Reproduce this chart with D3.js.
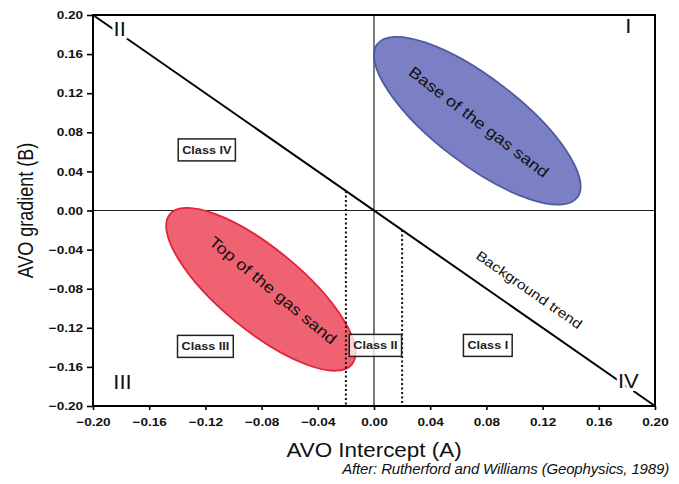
<!DOCTYPE html>
<html>
<head>
<meta charset="utf-8">
<script src="https://cdn.jsdelivr.net/npm/d3@7/dist/d3.min.js"></script>
<style>
	body { margin: 0; background: #fff; }
	svg { display: block; font-family: "Liberation Sans", Arial, sans-serif; }
</style>
</head>
<body>
<div id="chart"></div>
<script>
// AXIS TICKS
var xTicks = [-0.20, -0.16, -0.12, -0.08, -0.04, 0.00, 0.04, 0.08, 0.12, 0.16, 0.20];
var yTicks = [-0.20, -0.16, -0.12, -0.08, -0.04, 0.00, 0.04, 0.08, 0.12, 0.16, 0.20];

// BACKGROUND TREND LINE (A, B)
var trendLine = [[-0.20, 0.20], [0.20, -0.20]];
var cutoffs = [-0.02, 0.02];   // dotted class II bounds on intercept

// QUADRANT LABELS
var quadrantNames = ["I", "II", "III", "IV"];
var quadrantA = [0.181, -0.181, -0.179, 0.181];
var quadrantB = [0.189, 0.186, -0.175, -0.174];

// CLASS BOXES
var classNames = ["Class IV", "Class III", "Class II", "Class I"];
var classA = [-0.119, -0.120, 0.001, 0.081];
var classB = [0.062, -0.139, -0.138, -0.138];

// GAS SAND ELLIPSES (centre in A, B)
var sandNames = ["Base of the gas sand", "Top of the gas sand"];
var sandA = [0.0735, -0.0805];
var sandB = [0.0918, -0.0806];

var W = 679, H = 484;
var margin = {left: 93, right: 24, top: 15, bottom: 78};
var SX = 1.18;   // the original scan is a bit wider than tall

var svg = d3.select("#chart").append("svg")
	.attr("width", W)
	.attr("height", H);

var x = d3.scaleLinear().domain([-0.2, 0.2]).range([margin.left, W - margin.right]);
var y = d3.scaleLinear().domain([-0.2, 0.2]).range([H - margin.bottom, margin.top]);

var fmt = d3.format(".2f");

function place(px, py, rot, sx){
	return "translate(" + px + "," + py + ") rotate(" + (rot || 0) + ") scale(" + (sx || 1) + ",1)";
}

//ZERO LINES
svg.append("line")
	.attr("x1", x(-0.2)).attr("x2", x(0.2))
	.attr("y1", y(0)).attr("y2", y(0))
	.attr("stroke", "#222").attr("stroke-width", 1.2);
svg.append("line")
	.attr("x1", x(0)).attr("x2", x(0))
	.attr("y1", y(-0.2)).attr("y2", y(0.2))
	.attr("stroke", "#222").attr("stroke-width", 1.2);

//ELLIPSES
var sandStyle = [
	{fill: "#7b80c4", stroke: "#4b5b9e", rx: 126, ry: 43, rot: 37.5, tx: 2, ty: 0},
	{fill: "#ef6272", stroke: "#e3223d", rx: 118, ry: 41, rot: 39.5, tx: 10, ty: -7}
];
sandNames.forEach(function(name, i){
	var st = sandStyle[i];
	var g = svg.append("g")
		.attr("transform", "translate(" + x(sandA[i]) + "," + y(sandB[i]) + ") rotate(" + st.rot + ")");
	g.append("ellipse")
		.attr("rx", st.rx).attr("ry", st.ry)
		.attr("fill", st.fill)
		.attr("stroke", st.stroke)
		.attr("stroke-width", 1.8);
	g.append("text")
		.attr("transform", "translate(" + st.tx + "," + st.ty + ") scale(" + SX + ",1)")
		.attr("text-anchor", "middle")
		.attr("dy", "0.35em")
		.attr("font-size", 15.5)
		.attr("fill", "#111")
		.text(name);
});

//DOTTED CUTOFFS, FROM THE TREND LINE DOWN TO THE AXIS
cutoffs.forEach(function(a){
	svg.append("line")
		.attr("x1", x(a)).attr("x2", x(a))
		.attr("y1", y(-a)).attr("y2", y(-0.2))
		.attr("stroke", "#111")
		.attr("stroke-width", 2)
		.attr("stroke-dasharray", "2,2.5");
});

//TREND LINE
svg.append("line")
	.attr("x1", x(trendLine[0][0])).attr("y1", y(trendLine[0][1]))
	.attr("x2", x(trendLine[1][0])).attr("y2", y(trendLine[1][1]))
	.attr("stroke", "#000").attr("stroke-width", 2);

var angle = Math.atan2(y(trendLine[1][1]) - y(trendLine[0][1]), x(trendLine[1][0]) - x(trendLine[0][0])) * 180 / Math.PI;
svg.append("text")
	.attr("transform", place(x(0.1085), y(-0.085), angle, SX))
	.attr("text-anchor", "middle")
	.attr("font-size", 13.5)
	.attr("fill", "#111")
	.text("Background trend");

//QUADRANT NUMERALS (white knock-out behind so the trend line breaks)
quadrantNames.forEach(function(q, i){
	svg.append("text")
		.attr("transform", place(x(quadrantA[i]), y(quadrantB[i]), 0, 1.05))
		.attr("text-anchor", "middle")
		.attr("dy", "0.35em")
		.attr("font-size", 21)
		.attr("fill", "#111")
		.attr("stroke", "#fff")
		.attr("stroke-width", 6)
		.attr("paint-order", "stroke")
		.text(q);
});

//CLASS BOXES
classNames.forEach(function(c, i){
	var g = svg.append("g")
		.attr("transform", "translate(" + x(classA[i]) + "," + y(classB[i]) + ")");
	var t = g.append("text")
		.attr("transform", "scale(1.1,1)")
		.attr("text-anchor", "middle")
		.attr("dy", "0.35em")
		.attr("font-size", 11.5)
		.attr("font-weight", "bold")
		.attr("fill", "#222")
		.text(c);
	var bb = t.node().getBBox();
	var w = bb.width * 1.1;
	g.insert("rect", "text")
		.attr("x", -w / 2 - 4).attr("y", -11)
		.attr("width", w + 8).attr("height", 22)
		.attr("fill", i == 2 ? "rgba(255,255,255,0.75)" : "#fff")
		.attr("stroke", "#222")
		.attr("stroke-width", 1.5);
});

//FRAME
svg.append("rect")
	.attr("x", x(-0.2)).attr("y", y(0.2))
	.attr("width", x(0.2) - x(-0.2))
	.attr("height", y(-0.2) - y(0.2))
	.attr("fill", "none")
	.attr("stroke", "#000")
	.attr("stroke-width", 2);

//AXES
var xAxis = svg.append("g")
	.attr("transform", "translate(0," + y(-0.2) + ")")
	.call(d3.axisBottom(x).tickValues(xTicks).tickFormat(fmt).tickSize(4).tickPadding(8));
var yAxis = svg.append("g")
	.attr("transform", "translate(" + x(-0.2) + ",0)")
	.call(d3.axisLeft(y).tickValues(yTicks).tickFormat(fmt).tickSize(6).tickPadding(4));
[xAxis, yAxis].forEach(function(ax){
	ax.select(".domain").remove();
	ax.selectAll("line").attr("stroke", "#000").attr("stroke-width", 1.6);
	ax.selectAll("text")
		.attr("font-size", 11.5)
		.attr("font-weight", "bold")
		.attr("font-family", "'Liberation Sans', Arial, sans-serif")
		.attr("fill", "#111")
		.attr("transform", function(){
			var ax0 = +d3.select(this).attr("x") || 0;
			return "translate(" + (ax0 * (1 - SX)) + ",0) scale(" + SX + ",1)";
		});
});

//AXIS TITLES
svg.append("text")
	.attr("transform", place(x(0), 457, 0, 1.15))
	.attr("text-anchor", "middle")
	.attr("font-size", 19.5)
	.attr("fill", "#111")
	.text("AVO Intercept (A)");
svg.append("text")
	.attr("transform", "translate(33," + y(0) + ") scale(1.25,1) rotate(-90)")
	.attr("text-anchor", "middle")
	.attr("font-size", 18)
	.attr("fill", "#111")
	.text("AVO gradient (B)");

svg.append("text")
	.attr("x", 669)
	.attr("y", 474)
	.attr("text-anchor", "end")
	.attr("font-size", 15)
	.attr("font-style", "italic")
	.attr("letter-spacing", -0.15)
	.attr("fill", "#111")
	.text("After: Rutherford and Williams (Geophysics, 1989)");
</script>
</body>
</html>
